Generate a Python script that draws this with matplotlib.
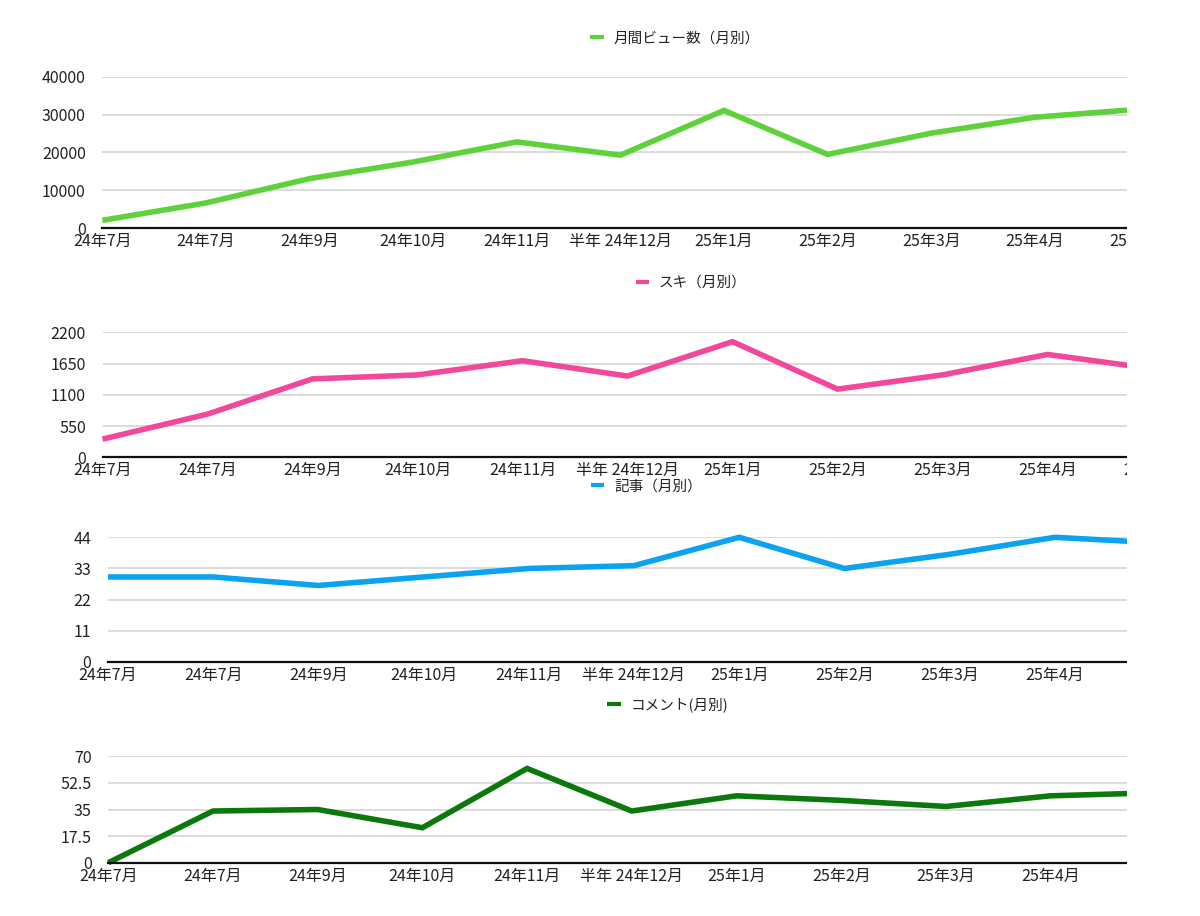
import matplotlib
matplotlib.use("Agg")
import matplotlib.pyplot as plt
from matplotlib.patches import Rectangle
from matplotlib.lines import Line2D

plt.rcParams['font.family'] = ['Noto Sans CJK JP', 'DejaVu Sans']

# ---- data ----
months = ['24年7月', '24年7月', '24年9月', '24年10月', '24年11月', '半年 24年12月',
          '25年1月', '25年2月', '25年3月', '25年4月', '25年5月']
views = [2100, 6700, 13100, 17500, 22800, 19300, 31100, 19500, 25100, 29300, 31400]
suki = [320, 760, 1380, 1450, 1700, 1430, 2035, 1200, 1450, 1810, 1560]
articles = [30, 30, 27, 30, 33, 34, 44, 33, 38, 44, 42]
comments = [0, 34, 35, 23, 62, 34, 44, 41, 37, 44, 46]

series_names = ['月間ビュー数（月別）', 'スキ（月別）', '記事（月別）', 'コメント(月別)']
series_values = [views, suki, articles, comments]
series_colors = ['#5fd13b', '#f2489b', '#0ba2ef', '#0b780b']
yticks_list = [[0, 10000, 20000, 30000, 40000],
               [0, 550, 1100, 1650, 2200],
               [0, 11, 22, 33, 44],
               [0, 17.5, 35, 52.5, 70]]
ytick_labels = [['0', '10000', '20000', '30000', '40000'],
                ['0', '550', '1100', '1650', '2200'],
                ['0', '11', '22', '33', '44'],
                ['0', '17.5', '35', '52.5', '70']]

# ---- layout (pixels) ----
W, H = 1200, 916
# x of first point, x of last point, y of top gridline, y of zero line
layout = [(102.4, 1138.4, 76.7, 228.3),
          (102.5, 1152.5, 332.3, 457.3),
          (108.0, 1160.0, 537.3, 662.0),
          (108.3, 1155.3, 756.3, 862.7)]
# legend: handle start x, center y
legend_pos = [(590, 38.5), (635.5, 282.7), (590.6, 486.5), (607, 705)]
clip_x = 1127

fig = plt.figure(figsize=(W / 100, H / 100), dpi=100)
fig.patch.set_facecolor('white')

for i in range(4):
    x0, x1, ytop, ybot = layout[i]
    ax = fig.add_axes([x0 / W, 1 - ybot / H, (x1 - x0) / W, (ybot - ytop) / H])
    xs = list(range(len(months)))
    ax.plot(xs, series_values[i], color=series_colors[i], lw=4.0,
            solid_joinstyle='miter', solid_capstyle='butt', clip_on=False,
            zorder=3)
    ax.set_xlim(0, len(months) - 1)
    ax.set_ylim(yticks_list[i][0], yticks_list[i][-1])
    ax.set_yticks(yticks_list[i])
    ax.set_yticklabels(ytick_labels[i])
    ax.set_xticks(xs)
    ax.set_xticklabels(months)
    for s in ['top', 'right', 'left']:
        ax.spines[s].set_visible(False)
    ax.spines['bottom'].set_color('#111111')
    ax.spines['bottom'].set_linewidth(1.6)
    ax.spines['bottom'].set_zorder(4)
    ax.yaxis.grid(True, color='#d6d6d6', lw=1.2)
    ax.set_axisbelow(True)
    ax.tick_params(axis='y', length=0, pad=12, labelsize=11.5, labelcolor='#222222')
    ax.tick_params(axis='x', length=0, pad=3.5, labelsize=11.5, labelcolor='#222222')
    lx, ly = legend_pos[i]
    handle = Line2D([], [], color=series_colors[i], lw=3.0, solid_capstyle='butt')
    fig.legend(handles=[handle], labels=[series_names[i]], loc='center left',
               bbox_to_anchor=(lx / W, 1 - ly / H), frameon=False,
               fontsize=10.5, handlelength=0.95, handletextpad=0.65,
               borderpad=0, borderaxespad=0, labelcolor='#222222')

# crop the right side like the source screenshot
fig.add_artist(Rectangle((clip_x / W, 0), 1 - clip_x / W, 1,
                         transform=fig.transFigure, facecolor='white',
                         edgecolor='none', zorder=10))

fig.savefig('out.png', dpi=100, facecolor='white')
